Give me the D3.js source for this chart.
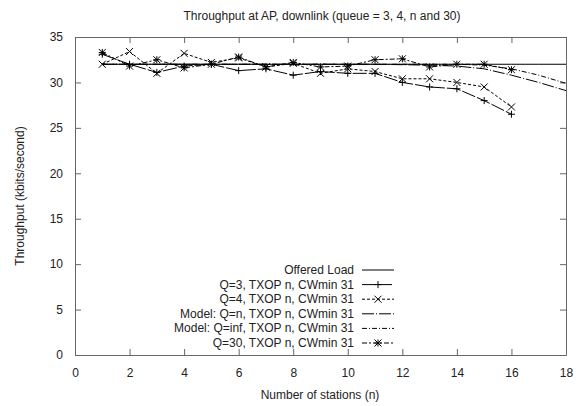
<!DOCTYPE html>
<html>
<head>
<meta charset="utf-8">
<script src="https://cdn.jsdelivr.net/npm/d3@7"></script>
<style>
  body { margin: 0; background: #fff; }
  text { font-family: "Liberation Sans", Arial, sans-serif; font-size: 12px; fill: #222; }
</style>
</head>
<body>
<svg id="chart" width="579" height="406"></svg>
<script>
const title = "Throughput at AP, downlink (queue = 3, 4, n and 30)";
const xLabel = "Number of stations (n)";
const yLabel = "Throughput (kbits/second)";
const xTicks = [0, 2, 4, 6, 8, 10, 12, 14, 16, 18];
const yTicks = [0, 5, 10, 15, 20, 25, 30, 35];

const stations = [1, 2, 3, 4, 5, 6, 7, 8, 9, 10, 11, 12, 13, 14, 15, 16];
const modelStations = [1, 2, 3, 4, 5, 6, 7, 8, 9, 10, 11, 12, 13, 14, 15, 16, 17, 18];

const offeredLoad = [32, 32, 32, 32, 32, 32, 32, 32, 32, 32, 32, 32, 32, 32, 32, 32, 32, 32];
const q3 = [33.1, 32.0, 31.1, 31.8, 32.0, 31.3, 31.5, 30.8, 31.2, 31.0, 31.0, 30.0, 29.5, 29.3, 28.0, 26.5];
const q4 = [32.0, 33.4, 31.0, 33.2, 32.2, 32.7, 31.7, 32.1, 31.0, 31.5, 31.2, 30.4, 30.4, 30.0, 29.5, 27.3];
const modelQn = [32.0, 32.0, 32.0, 32.0, 32.0, 32.0, 32.0, 32.0, 32.0, 32.0, 32.0, 31.95, 31.9, 31.8, 31.5, 30.8, 30.0, 29.1];
const modelQinf = [32.0, 32.0, 32.0, 32.0, 32.0, 32.0, 32.0, 32.0, 32.0, 32.0, 32.0, 32.0, 32.0, 32.0, 31.9, 31.5, 30.8, 29.9];
const q30 = [33.3, 31.8, 32.5, 31.6, 32.0, 32.8, 31.7, 32.2, 31.7, 31.8, 32.5, 32.6, 31.7, 32.0, 32.0, 31.4];

const seriesNames = [
  "Offered Load",
  "Q=3, TXOP n, CWmin 31",
  "Q=4, TXOP n, CWmin 31",
  "Model: Q=n, TXOP n, CWmin 31",
  "Model: Q=inf, TXOP n, CWmin 31",
  "Q=30, TXOP n, CWmin 31"
];

const series = [
  { name: seriesNames[0], xs: modelStations, ys: offeredLoad, dash: null, marker: null },
  { name: seriesNames[1], xs: stations, ys: q3, dash: "14,2", marker: "plus" },
  { name: seriesNames[2], xs: stations, ys: q4, dash: "3,2", marker: "cross" },
  { name: seriesNames[3], xs: modelStations, ys: modelQn, dash: "12,2,1,2", marker: null },
  { name: seriesNames[4], xs: modelStations, ys: modelQinf, dash: "5,2,1,2", marker: null },
  { name: seriesNames[5], xs: stations, ys: q30, dash: "5,2,2,2", marker: "star" }
];

const svg = d3.select("#chart");
const L = 75, R = 566, T = 37, B = 355;
const x = d3.scaleLinear().domain([0, 18]).range([L, R]);
const y = d3.scaleLinear().domain([0, 35]).range([B, T]);
const frameColor = "#666";

// title
svg.append("text").attr("x", 322).attr("y", 20).attr("text-anchor", "middle").text(title);
svg.append("text").attr("x", 320).attr("y", 399).attr("text-anchor", "middle").text(xLabel);
svg.append("text").attr("transform", `translate(24,${(T + B) / 2}) rotate(-90)`)
  .attr("text-anchor", "middle").text(yLabel);

// axes with inward ticks
const axB = svg.append("g").attr("transform", `translate(0,${B})`)
  .call(d3.axisBottom(x).tickValues(xTicks).tickSizeInner(-6).tickSizeOuter(0).tickPadding(13));
const axL = svg.append("g").attr("transform", `translate(${L},0)`)
  .call(d3.axisLeft(y).tickValues(yTicks).tickSizeInner(-6).tickSizeOuter(0).tickPadding(12));
const axT = svg.append("g").attr("transform", `translate(0,${T})`)
  .call(d3.axisTop(x).tickValues(xTicks).tickSizeInner(-6).tickSizeOuter(0).tickFormat(""));
const axR = svg.append("g").attr("transform", `translate(${R},0)`)
  .call(d3.axisRight(y).tickValues(yTicks).tickSizeInner(-6).tickSizeOuter(0).tickFormat(""));
[axB, axL, axT, axR].forEach(a => {
  a.selectAll("path").attr("stroke", frameColor);
  a.selectAll("line").attr("stroke", frameColor);
  a.selectAll("text").style("font-family", '"Liberation Sans", Arial, sans-serif').style("font-size", "12px").attr("fill", "#222");
});

function drawMarker(g, type, cx, cy, s) {
  const h = s / 2;
  if (type === "plus" || type === "star") {
    g.append("line").attr("x1", cx - h).attr("x2", cx + h).attr("y1", cy).attr("y2", cy);
    g.append("line").attr("x1", cx).attr("x2", cx).attr("y1", cy - h).attr("y2", cy + h);
  }
  if (type === "cross" || type === "star") {
    g.append("line").attr("x1", cx - h).attr("x2", cx + h).attr("y1", cy - h).attr("y2", cy + h);
    g.append("line").attr("x1", cx - h).attr("x2", cx + h).attr("y1", cy + h).attr("y2", cy - h);
  }
}

const line = d3.line();
series.forEach(s => {
  const pts = s.xs.map((v, i) => [x(v), y(s.ys[i])]);
  svg.append("path").attr("d", line(pts)).attr("fill", "none")
    .attr("stroke", "#000").attr("stroke-width", 1)
    .attr("stroke-dasharray", s.dash);
  if (s.marker) {
    const g = svg.append("g").attr("stroke", "#000").attr("stroke-width", 1);
    pts.forEach(p => drawMarker(g, s.marker, p[0], p[1], 7));
  }
});

// legend
const legTextX = 354, legX1 = 362, legX2 = 394, legY0 = 270, legDy = 14.6;
series.forEach((s, i) => {
  const ly = legY0 + i * legDy;
  svg.append("text").attr("x", legTextX).attr("y", ly + 4).attr("text-anchor", "end").text(s.name);
  svg.append("line").attr("x1", legX1).attr("x2", legX2).attr("y1", ly).attr("y2", ly)
    .attr("stroke", "#000").attr("stroke-width", 1).attr("stroke-dasharray", s.dash);
  if (s.marker) {
    const g = svg.append("g").attr("stroke", "#000").attr("stroke-width", 1);
    drawMarker(g, s.marker, (legX1 + legX2) / 2, ly, 7);
  }
});
</script>
</body>
</html>
